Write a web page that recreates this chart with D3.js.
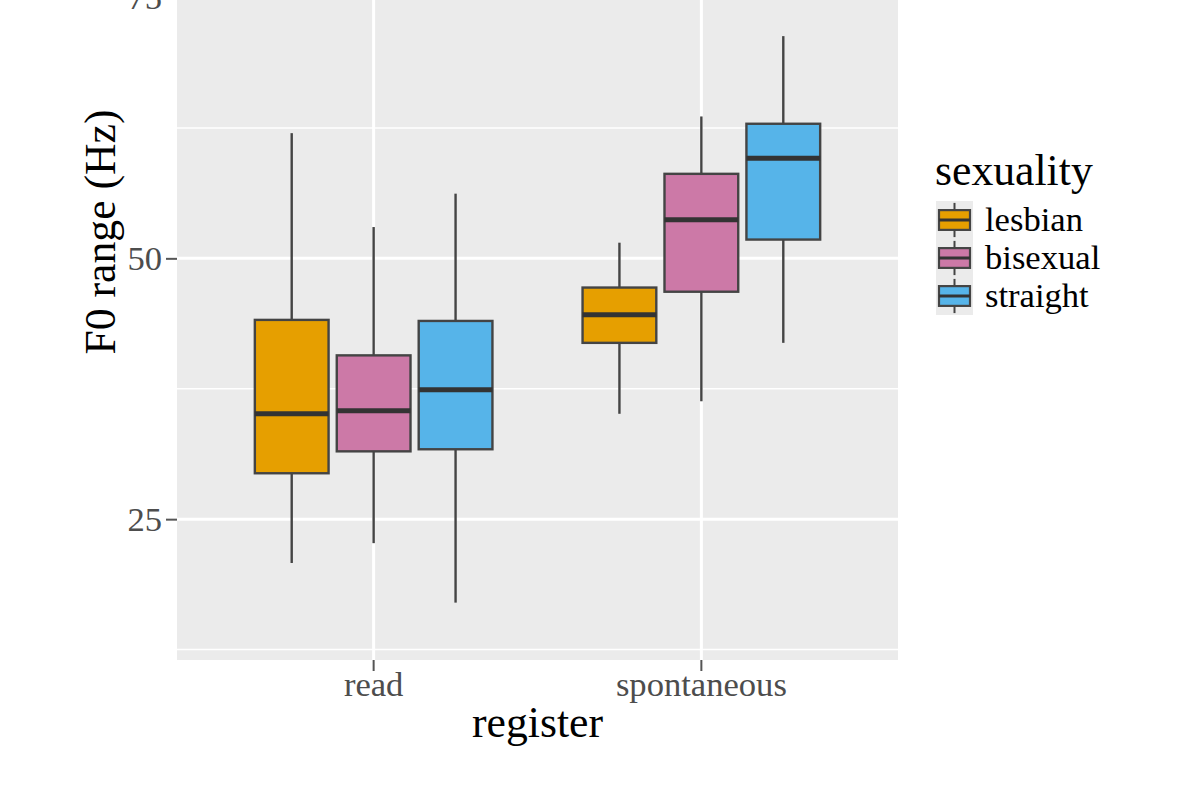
<!DOCTYPE html>
<html>
<head>
<meta charset="utf-8">
<script src="https://cdn.jsdelivr.net/npm/d3@7/dist/d3.min.js"></script>
<style>
    body { margin: 0; background: #fff; }
    svg { display: block; font-family: "Liberation Serif", "Times New Roman", serif; }
</style>
</head>
<body>
<div id="chart"></div>
<script>
(function() {
    // categories on the x axis and the fill groups
    var registers = ['read', 'spontaneous'];
    var sexualities = ['lesbian', 'bisexual', 'straight'];
    var fillColors = ['#E69F00', '#CC79A7', '#56B4E9'];

    // [lower whisker, Q1, median, Q3, upper whisker] per sexuality
    var readStats = [
        [20.8, 29.4, 35.1, 44.1, 62.0],
        [22.7, 31.5, 35.4, 40.7, 53.0],
        [17.0, 31.7, 37.4, 44.0, 56.2]
    ];
    var spontaneousStats = [
        [35.1, 41.9, 44.6, 47.2, 51.5],
        [36.3, 46.8, 53.7, 58.1, 63.6],
        [41.9, 51.8, 59.6, 62.9, 71.3]
    ];

    var yTicks = [25, 50, 75];
    var yMinorTicks = [12.5, 37.5, 62.5, 87.5];

    var WIDTH = 1200, HEIGHT = 785;
    // the panel runs above the top of the picture (the original was cropped)
    var PANEL = {left: 177, right: 898, top: -196, bottom: 660};
    var BASE_SIZE = 43.7;
    var SMALL_SIZE = 34.6;

    var statsByRegister = {read: readStats, spontaneous: spontaneousStats};

    var svg = d3.select('#chart').append('svg')
        .attr('width', WIDTH)
        .attr('height', HEIGHT);

    // scales
    var x = d3.scaleBand()
        .domain(registers)
        .range([PANEL.left, PANEL.right])
        .paddingInner(0.25)
        .paddingOuter(0.225);

    var xInner = d3.scaleBand()
        .domain(sexualities)
        .range([0, x.bandwidth()])
        .paddingInner(0.1)
        .paddingOuter(0.05);

    var y = d3.scaleLinear()
        .domain([11.5, 93.55])
        .range([PANEL.bottom, PANEL.top]);

    var color = d3.scaleOrdinal().domain(sexualities).range(fillColors);

    // panel background + grid
    svg.append('rect')
        .attr('x', PANEL.left)
        .attr('y', PANEL.top)
        .attr('width', PANEL.right - PANEL.left)
        .attr('height', PANEL.bottom - PANEL.top)
        .attr('fill', '#EBEBEB');

    svg.append('g').selectAll('line')
        .data(yMinorTicks)
        .join('line')
        .attr('x1', PANEL.left).attr('x2', PANEL.right)
        .attr('y1', function(d) { return y(d); })
        .attr('y2', function(d) { return y(d); })
        .attr('stroke', '#fff')
        .attr('stroke-width', 1.5);

    svg.append('g').selectAll('line')
        .data(yTicks)
        .join('line')
        .attr('x1', PANEL.left).attr('x2', PANEL.right)
        .attr('y1', function(d) { return y(d); })
        .attr('y2', function(d) { return y(d); })
        .attr('stroke', '#fff')
        .attr('stroke-width', 3);

    svg.append('g').selectAll('line')
        .data(registers)
        .join('line')
        .attr('x1', function(d) { return x(d) + x.bandwidth() / 2; })
        .attr('x2', function(d) { return x(d) + x.bandwidth() / 2; })
        .attr('y1', PANEL.top).attr('y2', PANEL.bottom)
        .attr('stroke', '#fff')
        .attr('stroke-width', 3);

    // flatten to one record per box
    var boxes = [];
    registers.forEach(function(reg) {
        statsByRegister[reg].forEach(function(s, i) {
            boxes.push({register: reg, sexuality: sexualities[i],
                lo: s[0], q1: s[1], med: s[2], q3: s[3], hi: s[4]});
        });
    });

    var boxG = svg.append('g').selectAll('g')
        .data(boxes)
        .join('g')
        .attr('transform', function(d) {
            return 'translate(' + (x(d.register) + xInner(d.sexuality)) + ',0)';
        });

    var bw = xInner.bandwidth();

    // whiskers
    boxG.append('line')
        .attr('x1', bw / 2).attr('x2', bw / 2)
        .attr('y1', function(d) { return y(d.hi); })
        .attr('y2', function(d) { return y(d.q3); })
        .attr('stroke', '#444')
        .attr('stroke-width', 2.4);
    boxG.append('line')
        .attr('x1', bw / 2).attr('x2', bw / 2)
        .attr('y1', function(d) { return y(d.q1); })
        .attr('y2', function(d) { return y(d.lo); })
        .attr('stroke', '#444')
        .attr('stroke-width', 2.4);

    // boxes
    boxG.append('rect')
        .attr('x', 0)
        .attr('width', bw)
        .attr('y', function(d) { return y(d.q3); })
        .attr('height', function(d) { return y(d.q1) - y(d.q3); })
        .attr('fill', function(d) { return color(d.sexuality); })
        .attr('stroke', '#444')
        .attr('stroke-width', 2.4);

    // medians
    boxG.append('line')
        .attr('x1', 0).attr('x2', bw)
        .attr('y1', function(d) { return y(d.med); })
        .attr('y2', function(d) { return y(d.med); })
        .attr('stroke', '#333')
        .attr('stroke-width', 5);

    // axes
    var yAxis = svg.append('g')
        .attr('transform', 'translate(' + PANEL.left + ',0)')
        .call(d3.axisLeft(y).tickValues(yTicks).tickSizeInner(11).tickSizeOuter(0).tickPadding(4));
    var xAxis = svg.append('g')
        .attr('transform', 'translate(0,' + PANEL.bottom + ')')
        .call(d3.axisBottom(x).tickSizeInner(11).tickSizeOuter(0).tickPadding(0));

    [yAxis, xAxis].forEach(function(ax) {
        ax.select('.domain').remove();
        ax.selectAll('.tick line').attr('stroke', '#555').attr('stroke-width', 2);
        ax.selectAll('.tick text')
            .attr('fill', '#4D4D4D')
            .style('font-size', SMALL_SIZE + 'px')
            .style('font-family', '"Liberation Serif", serif');
    });

    // axis titles
    svg.append('text')
        .attr('x', (PANEL.left + PANEL.right) / 2)
        .attr('y', 737)
        .attr('text-anchor', 'middle')
        .style('font-size', BASE_SIZE + 'px')
        .text('register');

    svg.append('text')
        .attr('transform', 'translate(115,' + ((PANEL.top + PANEL.bottom) / 2) + ') rotate(-90)')
        .attr('text-anchor', 'middle')
        .style('font-size', BASE_SIZE + 'px')
        .text('F0 range (Hz)');

    // legend
    var legend = svg.append('g');
    legend.append('text')
        .attr('x', 935)
        .attr('y', 185)
        .style('font-size', BASE_SIZE + 'px')
        .text('sexuality');

    var keyRow = d3.scaleBand().domain(sexualities).range([201, 315]);
    var keyLeft = 936, keyW = 37;

    var keys = legend.selectAll('g.key')
        .data(sexualities)
        .join('g')
        .attr('class', 'key')
        .attr('transform', function(d) { return 'translate(' + keyLeft + ',' + keyRow(d) + ')'; });

    var kh = keyRow.bandwidth();
    keys.append('rect')
        .attr('width', keyW).attr('height', kh)
        .attr('fill', '#EBEBEB');
    keys.append('line')
        .attr('x1', keyW / 2).attr('x2', keyW / 2)
        .attr('y1', kh * 0.05).attr('y2', kh * 0.95)
        .attr('stroke', '#444').attr('stroke-width', 2);
    keys.append('rect')
        .attr('x', 3).attr('width', keyW - 6)
        .attr('y', kh * 0.24).attr('height', kh * 0.52)
        .attr('fill', function(d) { return color(d); })
        .attr('stroke', '#444').attr('stroke-width', 2.2);
    keys.append('line')
        .attr('x1', 3).attr('x2', keyW - 3)
        .attr('y1', kh / 2).attr('y2', kh / 2)
        .attr('stroke', '#333').attr('stroke-width', 3);
    keys.append('text')
        .attr('x', 985 - keyLeft)
        .attr('y', kh / 2)
        .attr('dy', '0.33em')
        .style('font-size', SMALL_SIZE + 'px')
        .text(function(d) { return d; });
})();
</script>
</body>
</html>
